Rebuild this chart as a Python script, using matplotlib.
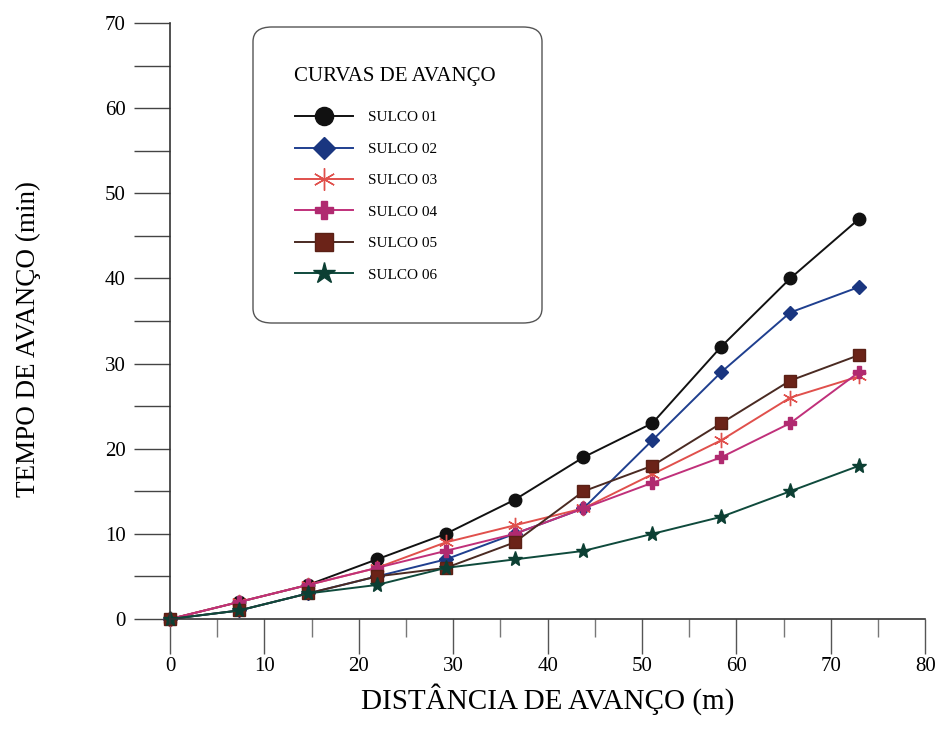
import matplotlib
matplotlib.use("Agg")
import matplotlib.pyplot as plt
from matplotlib.patches import FancyBboxPatch
from matplotlib.ticker import MultipleLocator

distance = [0, 7.3, 14.6, 21.9, 29.2, 36.5, 43.8, 51.1, 58.4, 65.7, 73.0]
sulco01 = [0, 2, 4, 7, 10, 14, 19, 23, 32, 40, 47]
sulco02 = [0, 1, 3, 5, 7, 10, 13, 21, 29, 36, 39]
sulco03 = [0, 2, 4, 6, 9, 11, 13, 17, 21, 26, 28.5]
sulco04 = [0, 2, 4, 6, 8, 10, 13, 16, 19, 23, 29]
sulco05 = [0, 1, 3, 5, 6, 9, 15, 18, 23, 28, 31]
sulco06 = [0, 1, 3, 4, 6, 7, 8, 10, 12, 15, 18]
labels = ["SULCO 01", "SULCO 02", "SULCO 03", "SULCO 04", "SULCO 05", "SULCO 06"]

plt.rcParams['font.family'] = ['Liberation Serif', 'DejaVu Serif']

fig = plt.figure(figsize=(9.45, 7.31), dpi=100)
ax = fig.add_axes([0.18, 0.1532, 0.799, 0.8153])

styles = [
    dict(color='#111111', marker='o', ms=9, mfc='#111111', mec='#111111'),
    dict(color='#1f3f8f', marker='D', ms=7.5, mfc='#1a3680', mec='#1a3680'),
    dict(color='#e0504c', marker=(6, 2, 0), ms=11, mfc='#e0504c', mec='#e0504c', mew=1.0),
    dict(color='#c0307a', marker='P', ms=9, mfc='#b02a70', mec='#b02a70'),
    dict(color='#4a2a22', marker='s', ms=8.5, mfc='#6b2318', mec='#5a2015'),
    dict(color='#0f4a3c', marker='*', ms=11, mfc='#0c3f33', mec='#0c3f33'),
]
series = [sulco01, sulco02, sulco03, sulco04, sulco05, sulco06]
handles = []
for ys, lab, st in zip(series, labels, styles):
    h, = ax.plot(distance, ys, lw=1.4, label=lab, **st)
    h.set_clip_on(False)
    handles.append(h)

ax.set_xlim(0, 80)
ax.set_ylim(0, 70)
for s in ['top', 'right']:
    ax.spines[s].set_visible(False)
for s in ['left', 'bottom']:
    ax.spines[s].set_color('#333333')
    ax.spines[s].set_linewidth(1.2)
ax.spines['left'].set_bounds(-0.6, 70)

ax.xaxis.set_major_locator(MultipleLocator(10))
ax.xaxis.set_minor_locator(MultipleLocator(5))
ax.yaxis.set_major_locator(MultipleLocator(10))
ax.yaxis.set_minor_locator(MultipleLocator(5))
ax.tick_params(axis='x', which='major', direction='out', length=25, width=1.0,
               color='#555555', labelsize=15, pad=2)
ax.tick_params(axis='x', which='minor', direction='out', length=13, width=1.0, color='#777777')
ax.tick_params(axis='y', which='both', direction='out', length=26, width=1.0,
               color='#444444', labelsize=15, pad=6)

fig.text(548 / 945, 1 - 699 / 731, 'DISTÂNCIA DE AVANÇO (m)', fontsize=21,
         ha='center', va='center')
fig.text(28 / 945, 1 - 339 / 731, 'TEMPO DE AVANÇO (min)', fontsize=19.5,
         ha='center', va='center', rotation=90)

# legend box
box = FancyBboxPatch((253 / 945, 1 - 323 / 731), (542 - 253) / 945, (323 - 27) / 731,
                     boxstyle='round,pad=0,rounding_size=0.02', transform=fig.transFigure,
                     facecolor='white', edgecolor='#555555', lw=1.0, zorder=5)
fig.patches.append(box)
fig.text(294 / 945, 1 - 77 / 731, 'CURVAS DE AVANÇO', fontsize=15, va='center', ha='left', zorder=6)
leg = fig.legend(handles=handles, labels=labels, loc='upper left',
                 bbox_to_anchor=(281 / 945, 1 - 97 / 731), frameon=False,
                 fontsize=11, handlelength=3.8, labelspacing=1.16, handletextpad=1.0,
                 markerscale=1.45)
leg.set_zorder(7)

fig.savefig('out.png', dpi=100, facecolor='white')
